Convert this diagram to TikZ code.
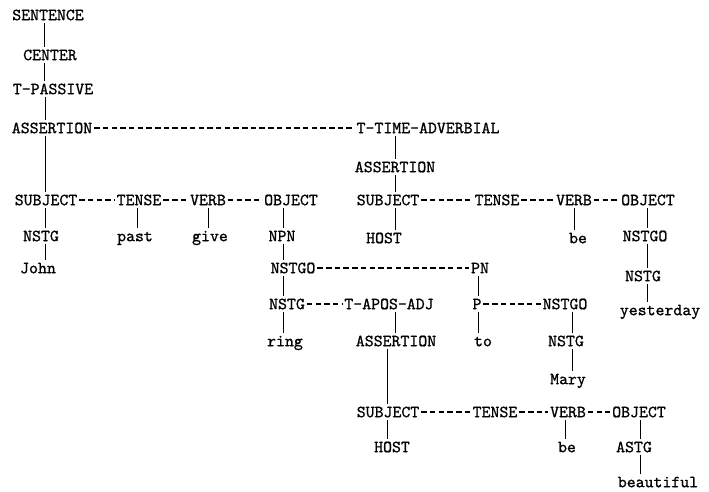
\documentclass[tikz,border=0pt]{standalone}
\usepackage{fontspec}
\newfontfamily\twfont[FakeBold=0.9]{lmmono10-regular.otf}
\usetikzlibrary{calc}
\tikzset{
  lbl/.style={inner sep=0pt, outer sep=0pt, text height=10.4pt, text depth=0pt,
    font=\fontsize{17}{20}\selectfont\twfont},
  vline/.style={line width=0.9pt, shorten <=3pt, shorten >=3pt},
  dline/.style={line width=1.2pt, dash pattern=on 5.5pt off 3.2pt, shorten <=2pt, shorten >=2pt},
}
\newcommand\vlink[3][0]{\draw[vline] ([xshift=#1pt]#3.north |- #2.south) -- ([xshift=#1pt]#3.north);}
\begin{document}
\begin{tikzpicture}[x=1pt,y=-1pt]
\fill[white] (0,0) rectangle (709,492);
\useasboundingbox (0,0) rectangle (709,492);
% left column
\node[lbl] (s1) at (48,15) {SENTENCE};
\node[lbl] (c1) at (50,55) {CENTER};
\node[lbl] (tp) at (53,89) {T-PASSIVE};
\node[lbl] (a1) at (52,128) {ASSERTION};
\node[lbl] (tta) at (428,128) {T-TIME-ADVERBIAL};
\node[lbl] (a2) at (395,167) {ASSERTION};
% first clause
\node[lbl] (subj1) at (46,200) {SUBJECT};
\node[lbl] (tense1) at (139,200) {TENSE};
\node[lbl] (verb1) at (208,200) {VERB};
\node[lbl] (obj1) at (291,200) {OBJECT};
\node[lbl] (nstg1) at (41,236) {NSTG};
\node[lbl] (past) at (135,236) {past};
\node[lbl] (give) at (210,236) {give};
\node[lbl] (npn) at (282,236) {NPN};
\node[lbl] (john) at (38,268) {John};
\node[lbl] (nstgo2) at (293,268) {NSTGO};
\node[lbl] (pn) at (480,268) {PN};
\node[lbl] (nstg2) at (287,304) {NSTG};
\node[lbl] (tapos) at (389,304) {T-APOS-ADJ};
\node[lbl] (p) at (477,304) {P};
\node[lbl] (nstgo3) at (565,304) {NSTGO};
\node[lbl] (ring) at (285,341) {ring};
\node[lbl] (a3) at (396,341) {ASSERTION};
\node[lbl] (to) at (483,341) {to};
\node[lbl] (nstg3) at (566,341) {NSTG};
\node[lbl] (mary) at (568,379) {Mary};
% time adverbial clause
\node[lbl] (subj2) at (388,200) {SUBJECT};
\node[lbl] (tense2) at (497,200) {TENSE};
\node[lbl] (verb2) at (574,200) {VERB};
\node[lbl] (obj2) at (648,200) {OBJECT};
\node[lbl] (host1) at (384,238) {HOST};
\node[lbl] (be1) at (578,238) {be};
\node[lbl] (nstgo4) at (645,236) {NSTGO};
\node[lbl] (nstg4) at (643,276) {NSTG};
\node[lbl] (yest) at (660,310) {yesterday};
% apposition clause
\node[lbl] (subj3) at (388,412) {SUBJECT};
\node[lbl] (tense3) at (495,412) {TENSE};
\node[lbl] (verb3) at (568,412) {VERB};
\node[lbl] (obj3) at (639,412) {OBJECT};
\node[lbl] (host2) at (392,447) {HOST};
\node[lbl] (be2) at (567,447) {be};
\node[lbl] (astg) at (634,447) {ASTG};
\node[lbl] (beau) at (658,482) {beautiful};
% vertical links
\vlink[-6]{s1}{c1}
\vlink[-9]{c1}{tp}
\vlink[-7]{tp}{a1}
\vlink[-1]{a1}{subj1}
\vlink[4]{subj1}{nstg1}
\vlink[7]{nstg1}{john}
\vlink[2]{tense1}{past}
\vlink[-2]{verb1}{give}
\vlink[1]{obj1}{npn}
\vlink[-10]{npn}{nstgo2}
\vlink[-4]{nstgo2}{nstg2}
\vlink[-2]{nstg2}{ring}
\vlink[0]{tta}{a2}
\vlink[7]{a2}{subj2}
\vlink[11]{subj2}{host1}
\vlink[-4]{verb2}{be1}
\vlink[2]{obj2}{nstgo4}
\vlink[4]{nstgo4}{nstg4}
\vlink[-13]{nstg4}{yest}
\vlink[1]{pn}{p}
\vlink[-5]{p}{to}
\vlink[6]{nstgo3}{nstg3}
\vlink[4]{nstg3}{mary}
\vlink[-1]{tapos}{a3}
\vlink[-1]{a3}{subj3}
\vlink[-5]{subj3}{host2}
\vlink[-2]{verb3}{be2}
\vlink[6]{obj3}{astg}
\vlink[-18]{astg}{beau}
% dashed links
\draw[dline] (a1) -- (tta);
\draw[dline] (subj1) -- (tense1);
\draw[dline] (tense1) -- (verb1);
\draw[dline] (verb1) -- (obj1);
\draw[dline] (subj2) -- (tense2);
\draw[dline] (tense2) -- (verb2);
\draw[dline] (verb2) -- (obj2);
\draw[dline] (nstgo2) -- (pn);
\draw[dline] (nstg2) -- (tapos);
\draw[dline] (p) -- (nstgo3);
\draw[dline] (subj3) -- (tense3);
\draw[dline] (tense3) -- (verb3);
\draw[dline] (verb3) -- (obj3);
\end{tikzpicture}
\end{document}
